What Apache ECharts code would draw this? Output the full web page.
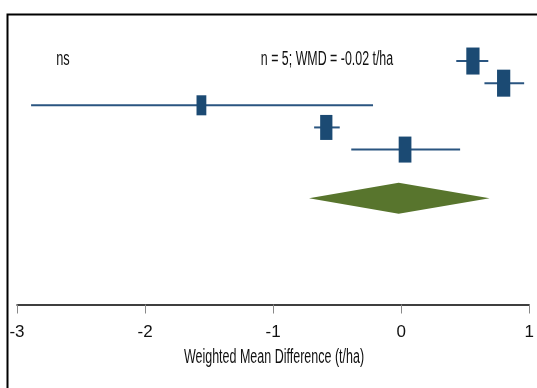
<!DOCTYPE html>
<html>
<head>
<meta charset="utf-8">
<script src="https://cdn.jsdelivr.net/npm/echarts@6/dist/echarts.min.js"></script>
<style>html,body{margin:0;padding:0;background:#fff;}#c{width:537px;height:388px;}</style>
</head>
<body>
<div id="c"></div>
<script>
// Data
const studyRows = [1, 2, 3, 4, 5];
const estimates = [0.56, 0.80, -1.56, -0.585, 0.03];
const ciLower   = [0.43, 0.65, -2.89, -0.68, -0.39];
const ciUpper   = [0.68, 0.96, -0.22, -0.48, 0.46];
const weights   = [23.1, 23.1, 12.7, 19.8, 21.4];
const pooledRow = 7.2;
const pooledEst = -0.02, pooledLo = -0.72, pooledHi = 0.69;
const xTicks = [-3, -2, -1, 0, 1];
const xTitle = 'Weighted Mean Difference (t/ha)';
const sigLabel = 'ns';
const summaryLabel = 'n = 5; WMD = -0.02 t/ha';

const FONT = "'Liberation Sans Narrow','Arial Narrow','Liberation Sans',sans-serif";
const chart = echarts.init(document.getElementById('c'));

const studyData = studyRows.map((r, i) => [estimates[i], r, ciLower[i], ciUpper[i], weights[i]]);

chart.setOption({
  animation: false,
  grid: { left: 17, right: 5.5, top: 38.9, bottom: 388 - 304.5 },
  xAxis: {
    type: 'value', min: -3, max: 1, interval: 1, position: 'bottom',
    axisLine: { show: true, onZero: false, lineStyle: { color: '#000', width: 1.5 } },
    axisTick: { show: true, length: 9, lineStyle: { color: '#888', width: 1 } },
    axisLabel: { color: '#111', fontFamily: FONT, fontSize: 17, margin: 19,
      formatter: v => xTicks.includes(v) ? String(v) : '' },
    splitLine: { show: false }
  },
  yAxis: { type: 'value', min: 0, max: 12, inverse: true, show: false },
  graphic: [
    { type: 'polyline', shape: { points: [[7.5, 400], [7.5, 14.5], [540, 14.5]] },
      style: { stroke: '#000', lineWidth: 2, fill: null } },
    { type: 'text', x: 63, y: 59, scaleX: 0.64,
      style: { text: sigLabel, font: '20px ' + FONT, fill: '#111', align: 'center', verticalAlign: 'middle' } },
    { type: 'text', x: 327, y: 59, scaleX: 0.62,
      style: { text: summaryLabel, font: '20px ' + FONT, fill: '#111', align: 'center', verticalAlign: 'middle' } },
    { type: 'text', x: 274, y: 357, scaleX: 0.625,
      style: { text: xTitle, font: '20px ' + FONT, fill: '#111', align: 'center', verticalAlign: 'middle' } }
  ],
  series: [
    {
      type: 'custom',
      data: studyData,
      renderItem: function (params, api) {
        const est = api.coord([api.value(0), api.value(1)]);
        const lo = api.coord([api.value(2), api.value(1)]);
        const hi = api.coord([api.value(3), api.value(1)]);
        const h = 5.62 * Math.sqrt(api.value(4));
        const w = h * 0.49;
        return {
          type: 'group',
          children: [
            { type: 'line', shape: { x1: lo[0], y1: lo[1], x2: hi[0], y2: hi[1] },
              style: { stroke: '#2a5580', lineWidth: 2 } },
            { type: 'rect', shape: { x: est[0] - w / 2, y: est[1] - h / 2, width: w, height: h },
              style: { fill: '#1b4a73' } }
          ]
        };
      }
    },
    {
      type: 'custom',
      data: [[pooledEst, pooledRow, pooledLo, pooledHi]],
      renderItem: function (params, api) {
        const c = api.coord([api.value(0), api.value(1)]);
        const lo = api.coord([api.value(2), api.value(1)]);
        const hi = api.coord([api.value(3), api.value(1)]);
        const hh = 15.5;
        return {
          type: 'polygon',
          shape: { points: [[lo[0], c[1]], [c[0], c[1] - hh], [hi[0], c[1]], [c[0], c[1] + hh]] },
          style: { fill: '#58752d' }
        };
      }
    }
  ]
});
</script>
</body>
</html>
